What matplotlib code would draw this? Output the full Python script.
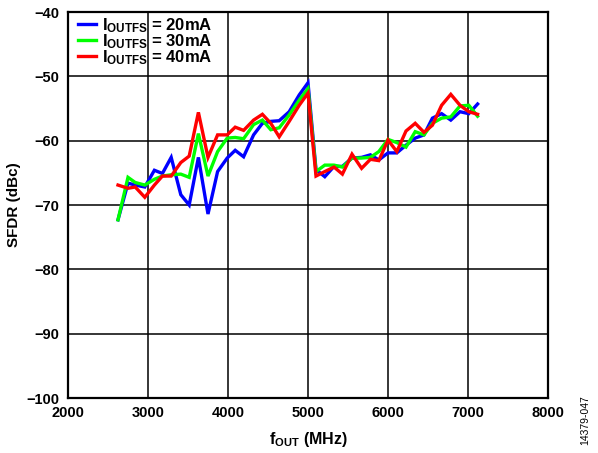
import matplotlib
matplotlib.use("Agg")
import matplotlib.pyplot as plt

plt.rcParams['font.family'] = ['Liberation Sans', 'DejaVu Sans']
plt.rcParams['font.weight'] = 'bold'
plt.rcParams['mathtext.fontset'] = 'custom'
plt.rcParams['mathtext.rm'] = 'Liberation Sans:bold'
plt.rcParams['mathtext.it'] = 'Liberation Sans:bold'
plt.rcParams['mathtext.bf'] = 'Liberation Sans:bold'
plt.rcParams['axes.unicode_minus'] = True

freq = [2625, 2750, 2840, 2960, 3080, 3180, 3290, 3410, 3515, 3630, 3750, 3870, 3990,
        4090, 4195, 4320, 4430, 4535, 4640, 4765, 4890, 5000, 5100, 5210, 5325, 5430,
        5550, 5670, 5780, 5885, 6000, 6110, 6225, 6340, 6450, 6555, 6670, 6785, 6900,
        7010, 7120]

sfdr_20 = [-72.3, -66.6, -66.9, -67.2, -64.6, -65.1, -62.6, -68.4, -70.0, -62.6, -71.4,
           -64.8, -62.7, -61.5, -62.5, -59.1, -57.3, -57.0, -56.9, -55.5, -52.9, -51.0,
           -64.5, -65.6, -64.0, -64.0, -62.7, -62.6, -62.2, -63.0, -61.9, -61.9, -60.7,
           -59.6, -59.1, -56.5, -55.8, -56.8, -55.5, -55.8, -54.3]

sfdr_30 = [-72.3, -65.7, -66.5, -66.9, -66.0, -65.5, -65.3, -65.2, -65.7, -58.9, -65.5,
           -61.7, -59.6, -59.5, -59.7, -57.5, -56.8, -58.3, -58.0, -56.0, -53.7, -51.9,
           -64.8, -63.8, -63.8, -64.1, -62.7, -62.7, -62.6, -61.7, -59.8, -60.3, -61.0,
           -58.6, -59.1, -57.3, -56.5, -56.3, -54.6, -54.5, -56.2]

sfdr_40 = [-66.9, -67.4, -67.2, -68.8, -66.9, -65.5, -65.5, -63.4, -62.4, -55.6, -62.6,
           -59.1, -59.1, -57.9, -58.4, -56.8, -55.9, -57.3, -59.4, -57.0, -54.5, -52.6,
           -65.5, -64.8, -64.1, -65.2, -62.1, -64.3, -62.9, -63.1, -59.9, -61.7, -58.5,
           -57.3, -58.7, -57.6, -54.5, -52.8, -54.5, -55.5, -55.9]

labels = [r'I$_{\mathrm{OUTFS}}$ = 20mA', r'I$_{\mathrm{OUTFS}}$ = 30mA', r'I$_{\mathrm{OUTFS}}$ = 40mA']
colors = ['#0000FF', '#00FF00', '#FF0000']
xticks = [2000, 3000, 4000, 5000, 6000, 7000, 8000]
yticks = [-100, -90, -80, -70, -60, -50, -40]

fig = plt.figure(figsize=(5.98, 4.53), dpi=100)
ax = fig.add_axes([0.1137, 0.1214, 0.8027, 0.8521])

for ys, c, lab in zip([sfdr_20, sfdr_30, sfdr_40], colors, labels):
    ax.plot(freq, ys, color=c, lw=2.4, label=lab, solid_joinstyle='miter')

ax.set_xlim(2000, 8000)
ax.set_ylim(-100, -40)
ax.set_xticks(xticks)
ax.set_yticks(yticks)
ax.set_xticklabels([str(t) for t in xticks], fontsize=10.5, fontweight='bold')
ax.set_yticklabels(['\u2212' + str(-t) for t in yticks], fontsize=10.5, fontweight='bold')
ax.tick_params(length=0, pad=6)
ax.grid(True, color='black', lw=1.1)
for s in ax.spines.values():
    s.set_linewidth(1.6)

ax.set_xlabel(r'f$_{\mathrm{OUT}}$ (MHz)', fontsize=11.5, fontweight='bold', labelpad=7)
ax.set_ylabel('SFDR (dBc)', fontsize=11, fontweight='bold', labelpad=4)

leg = ax.legend(loc='upper left', bbox_to_anchor=(0.012, 1.0), frameon=False,
                fontsize=12, handlelength=1.1, handletextpad=0.35, labelspacing=-0.17,
                borderaxespad=0.15, borderpad=0.1)
for t in leg.get_texts():
    t.set_fontweight('bold')

fig.text(0.978, 0.018, '14379-047', rotation=90, fontsize=7.5, fontweight='normal',
         ha='center', va='bottom')

fig.savefig('out.png', dpi=100)
